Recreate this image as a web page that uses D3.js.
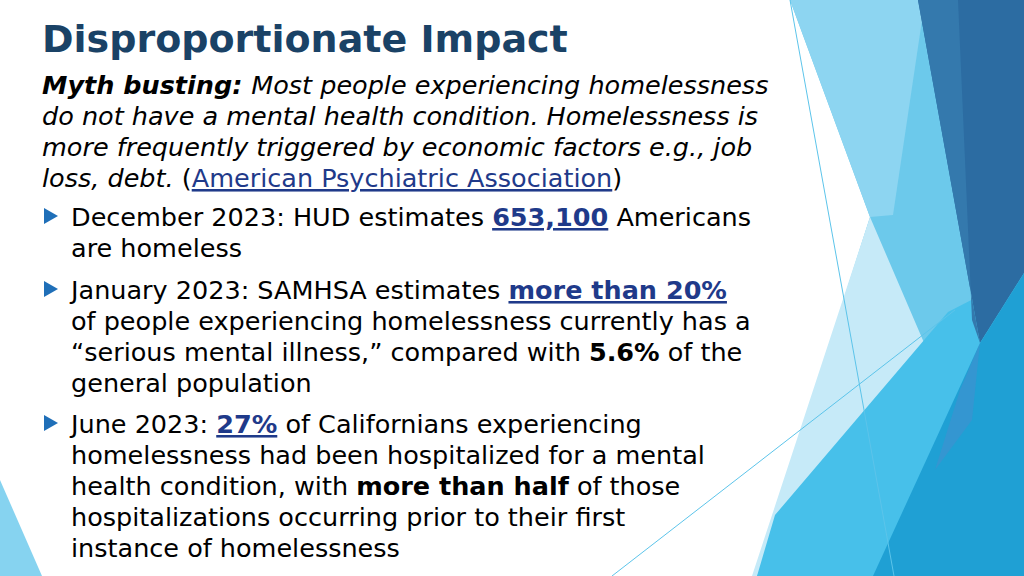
<!DOCTYPE html>
<html><head><meta charset="utf-8">
<script src="https://cdn.jsdelivr.net/npm/d3@7"></script>
<style>body{margin:0;background:#fff}svg{display:block}</style></head>
<body><svg id="s" width="1024" height="576"></svg>
<script>
const title = "Disproportionate Impact";
const mythLines = [
  [["Myth busting: ","bi"],["Most people experiencing homelessness","i"]],
  [["do not have a mental health condition. Homelessness is","i"]],
  [["more frequently triggered by economic factors e.g., job","i"]],
  [["loss, debt. ","i"],["(","n"],["American Psychiatric Association","l"],[")","n"]]
];
const bullets = [
  [[["December 2023: HUD estimates ","n"],["653,100","lb"],[" Americans","n"]],[["are homeless","n"]]],
  [[["January 2023: SAMHSA estimates ","n"],["more than 20%","lb"]],[["of people experiencing homelessness currently has a","n"]],[["\u201cserious mental illness,\u201d compared with ","n"],["5.6%","b"],[" of the","n"]],[["general population","n"]]],
  [[["June 2023: ","n"],["27%","lb"],[" of Californians experiencing","n"]],[["homelessness had been hospitalized for a mental","n"]],[["health condition, with ","n"],["more than half","b"],[" of those","n"]],[["hospitalizations occurring prior to their first","n"]],[["instance of homelessness","n"]]]
];
const bulletBaselines = [226, 299, 433];
const svg = d3.select("#s");
const shapes = [
  {p:[[0,480],[0,576],[42,576]],c:"#86d3f0",o:1},
  {p:[[790,0],[1024,0],[1024,576],[755,576],[870,217]],c:"#6cc9eb",o:1},
  {p:[[790,0],[925,0],[893,215],[870,217]],c:"#8dd5f1",o:1},
  {p:[[870,217],[925,345],[790,520],[757,576],[752,576]],c:"#c6eaf8",o:1},
  {p:[[1024,273],[948,312],[775,515],[757,576],[880,576],[980,343]],c:"#47c0ea",o:1},
  {p:[[918,0],[1024,0],[1024,273],[980,343]],c:"#2c6ca2",o:1},
  {p:[[918,0],[958,0],[972,320],[980,343]],c:"#3479ad",o:1},
  {p:[[1024,273],[1024,576],[873,576],[980,343]],c:"#1fa0d4",o:1},
  {p:[[980,343],[960,390],[935,470],[972,420]],c:"#3a94d0",o:0.8}
];
svg.selectAll("polygon.sh").data(shapes).join("polygon").attr("class","sh")
  .attr("points",d=>d.p.map(q=>q.join(",")).join(" ")).attr("fill",d=>d.c).attr("opacity",d=>d.o);
svg.append("line").attr("x1",790).attr("y1",0).attr("x2",894).attr("y2",576).attr("stroke","#5cc4ea").attr("stroke-width",1);
svg.append("line").attr("x1",612).attr("y1",576).attr("x2",955).attr("y2",310).attr("stroke","#5cc4ea").attr("stroke-width",1);
const font = "'DejaVu Sans', Verdana, sans-serif";
svg.append("text").attr("x",42).attr("y",52).attr("font-family",font).attr("font-weight","bold")
  .attr("font-size",38).attr("fill","#1a4266").text(title);
function styleSpan(sel,st){
  sel.attr("font-style", st.includes("i")?"italic":"normal")
     .attr("font-weight", (st==="bi"||st==="b"||st==="lb")?"bold":"normal")
     .attr("fill", st==="l"||st==="lb"?"#1f3a8a":"#000")
     .attr("text-decoration", st==="l"||st==="lb"?"underline":"none");
}
function drawLine(x,y,segs){
  const t=svg.append("text").attr("x",x).attr("y",y).attr("font-family",font).attr("font-size",25.5).attr("xml:space","preserve");
  segs.forEach(s=>styleSpan(t.append("tspan").text(s[0]),s[1]));
}
mythLines.forEach((l,i)=>drawLine(42,94+i*31,l));
bullets.forEach((b,bi)=>{
  const y0=bulletBaselines[bi];
  svg.append("polygon").attr("points",`44,${y0-18} 44,${y0-2} 58,${y0-10}`).attr("fill","#1f6fb8");
  b.forEach((l,i)=>drawLine(71,y0+i*31,l));
});
</script></body></html>
